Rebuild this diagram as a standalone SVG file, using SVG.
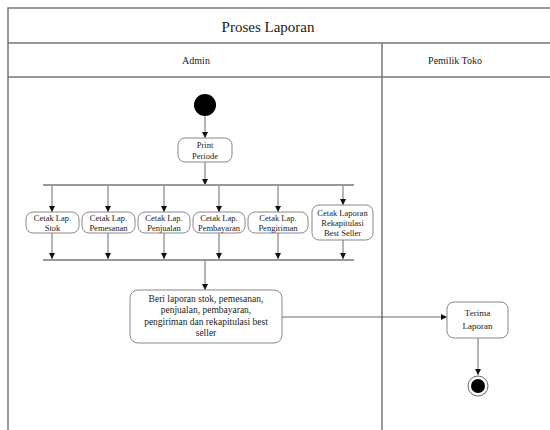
<svg xmlns="http://www.w3.org/2000/svg" width="550" height="430" viewBox="0 0 550 430">
<style>
.frame{stroke:#777;stroke-width:1.5;fill:none}
.node{fill:#fff;stroke:#888;stroke-width:1}
.t{font-family:"Liberation Serif",serif;fill:#222;text-anchor:middle}
.s{font-size:8.5px}
.c{stroke:#444;stroke-width:0.8;fill:none}
.bar{stroke:#999;stroke-width:2;fill:none}
</style>
<defs>
<marker id="ah" viewBox="0 0 10 10" refX="10" refY="5" markerWidth="6" markerHeight="6" orient="auto" markerUnits="userSpaceOnUse">
<path d="M0,0 L10,5 L0,10 z" fill="#111"/>
</marker>
</defs>
<rect width="550" height="430" fill="#fff"/>
<g id="frame">
<path class="frame" d="M8,430 V8 H550 M8,43 H550 M8,77 H550 M382,43 V430"/>
<text class="t" x="268" y="32" font-size="15">Proses Laporan</text>
<text class="t" x="196" y="64" font-size="10">Admin</text>
<text class="t" x="455" y="64" font-size="10">Pemilik Toko</text>
</g>
<g id="connectors">
<path class="c" d="M205,116 V138" marker-end="url(#ah)"/>
<path class="c" d="M205,162 V185" marker-end="url(#ah)"/>
<path class="bar" d="M43,185 H354"/>
<path class="c" d="M52,186 V212" marker-end="url(#ah)"/>
<path class="c" d="M108,186 V212" marker-end="url(#ah)"/>
<path class="c" d="M164,186 V212" marker-end="url(#ah)"/>
<path class="c" d="M219,186 V212" marker-end="url(#ah)"/>
<path class="c" d="M278,186 V212" marker-end="url(#ah)"/>
<path class="c" d="M343,186 V205" marker-end="url(#ah)"/>
<path class="c" d="M52,233 V259" marker-end="url(#ah)"/>
<path class="c" d="M108,233 V259" marker-end="url(#ah)"/>
<path class="c" d="M164,233 V259" marker-end="url(#ah)"/>
<path class="c" d="M219,233 V259" marker-end="url(#ah)"/>
<path class="c" d="M278,233 V259" marker-end="url(#ah)"/>
<path class="c" d="M343,240 V259" marker-end="url(#ah)"/>
<path class="bar" d="M43,260 H354"/>
<path class="c" d="M205,261 V290" marker-end="url(#ah)"/>
<path class="c" d="M282,317 H447" marker-end="url(#ah)"/>
<path class="c" d="M478,338 V375" marker-end="url(#ah)"/>
</g>
<g id="start"><circle cx="205" cy="105" r="11" fill="#000"/></g>
<g id="print">
<rect class="node" x="178" y="138" width="54" height="24" rx="7"/>
<text class="t s" x="205" y="148">Print</text>
<text class="t s" x="205" y="158.5">Periode</text>
</g>
<g id="stok">
<rect class="node" x="26" y="212" width="53" height="21" rx="7"/>
<text class="t s" x="52.5" y="221">Cetak Lap.</text>
<text class="t s" x="52.5" y="230.5">Stok</text>
</g>
<g id="pemesanan">
<rect class="node" x="82" y="212" width="53" height="21" rx="7"/>
<text class="t s" x="108.5" y="221">Cetak Lap.</text>
<text class="t s" x="108.5" y="230.5">Pemesanan</text>
</g>
<g id="penjualan">
<rect class="node" x="138" y="212" width="52" height="21" rx="7"/>
<text class="t s" x="164" y="221">Cetak Lap.</text>
<text class="t s" x="164" y="230.5">Penjualan</text>
</g>
<g id="pembayaran">
<rect class="node" x="193" y="212" width="52" height="21" rx="7"/>
<text class="t s" x="219" y="221">Cetak Lap.</text>
<text class="t s" x="219" y="230.5">Pembayaran</text>
</g>
<g id="pengiriman">
<rect class="node" x="248" y="212" width="60" height="21" rx="7"/>
<text class="t s" x="278" y="221">Cetak Lap.</text>
<text class="t s" x="278" y="230.5">Pengiriman</text>
</g>
<g id="bestseller">
<rect class="node" x="312" y="205" width="61" height="35" rx="7"/>
<text class="t s" x="342.5" y="215.5">Cetak Laporan</text>
<text class="t s" x="342.5" y="225.5">Rekapitulasi</text>
<text class="t s" x="342.5" y="235.5">Best Seller</text>
</g>
<g id="beri">
<rect class="node" x="130" y="290" width="152" height="53" rx="8"/>
<text class="t" font-size="9.5" x="206" y="301.5">Beri laporan stok, pemesanan,</text>
<text class="t" font-size="9.5" x="206" y="313">penjualan, pembayaran,</text>
<text class="t" font-size="9.5" x="206" y="324.5">pengiriman dan rekapitulasi best</text>
<text class="t" font-size="9.5" x="206" y="336">seller</text>
</g>
<g id="terima">
<rect class="node" x="447" y="302" width="61" height="36" rx="7"/>
<text class="t" font-size="9" x="477.5" y="316">Terima</text>
<text class="t" font-size="9" x="477.5" y="329">Laporan</text>
</g>
<g id="end">
<circle cx="478" cy="386" r="10" fill="#fff" stroke="#666" stroke-width="1"/>
<circle cx="478" cy="386" r="7" fill="#000"/>
</g>
</svg>
